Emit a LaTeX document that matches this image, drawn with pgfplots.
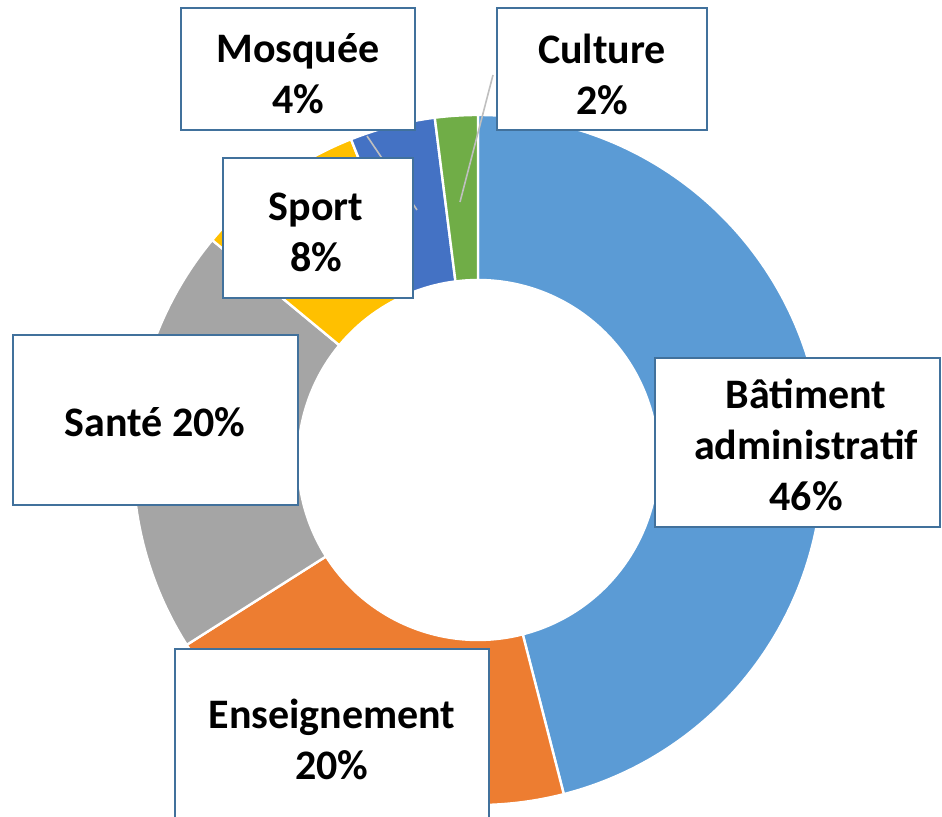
\documentclass[border=0pt]{standalone}
\usepackage{fontspec}
\setmainfont{Carlito}
\usepackage{pgfplots}
\pgfplotsset{compat=1.18}
\definecolor{cBat}{HTML}{5B9BD5}
\definecolor{cEns}{HTML}{ED7D31}
\definecolor{cSan}{HTML}{A5A5A5}
\definecolor{cSpo}{HTML}{FFC000}
\definecolor{cMos}{HTML}{4472C4}
\definecolor{cCul}{HTML}{70AD47}
\definecolor{cBox}{HTML}{41719C}
\definecolor{cLead}{HTML}{BFBFBF}
% centre (478,357), outer radius 345, inner radius 180 (axis units; 1 unit = 0.5pt)
\gdef\cumang{90}
\newcommand\slice[2]{%
  \pgfmathsetmacro\sa{\cumang}%
  \pgfmathsetmacro\sb{\cumang-3.6*#2}%
  \pgfmathsetmacro\xo{478+345*cos(\sa)}%
  \pgfmathsetmacro\yo{357+345*sin(\sa)}%
  \pgfmathsetmacro\xi{478+180*cos(\sb)}%
  \pgfmathsetmacro\yi{357+180*sin(\sb)}%
  \edef\tmp{\noexpand\filldraw[fill=#1,draw=white,line width=1.2pt] (axis cs:\xo,\yo) arc[start angle=\sa,end angle=\sb,radius=172.5pt] -- (axis cs:\xi,\yi) arc[start angle=\sb,end angle=\sa,radius=90pt] -- cycle;}%
  \tmp
  \xdef\cumang{\sb}}
\newcommand\lbl[3]{%
  \draw[cBox,line width=1.1pt,fill=white] (axis cs:#1) rectangle (axis cs:#2);}
\begin{document}
\begin{tikzpicture}
\begin{axis}[x=0.5pt,y=0.5pt,xmin=0,xmax=942,ymin=0,ymax=817,hide axis,clip=true]
\addplot[draw=none] coordinates {(0,0) (942,817)};
% slices: values in percent, clockwise from the top
\slice{cBat}{46}
\slice{cEns}{20}
\slice{cSan}{20}
\slice{cSpo}{8}
\slice{cMos}{4}
\slice{cCul}{2}
% leader lines
\draw[cLead,line width=0.8pt] (axis cs:367,681) -- (axis cs:417,607);
\draw[cLead,line width=0.8pt] (axis cs:493,742) -- (axis cs:460,615);
% label boxes
\draw[cBox,line width=1.1pt,fill=white] (axis cs:181,687) rectangle (axis cs:415,809);
\draw[cBox,line width=1.1pt,fill=white] (axis cs:497,687) rectangle (axis cs:707,809);
\draw[cBox,line width=1.1pt,fill=white] (axis cs:223,519) rectangle (axis cs:413,659);
\draw[cBox,line width=1.1pt,fill=white] (axis cs:13,312) rectangle (axis cs:298,482);
\draw[cBox,line width=1.1pt,fill=white] (axis cs:655,290) rectangle (axis cs:940,459);
\draw[cBox,line width=1.1pt,fill=white] (axis cs:175,-10) rectangle (axis cs:489,168);
\begin{scope}[every node/.style={align=center,font=\fontsize{21}{25.5}\selectfont\bfseries,inner sep=0pt}]
\node at (axis cs:298,743) {Mosquée\\4\%};
\node at (axis cs:602,743) {Culture\\2\%};
\node at (axis cs:316,585) {Sport\\8\%};
\node at (axis cs:155,395) {Santé 20\%};
\node at (axis cs:806,372) {Bâtiment\\administratif\\46\%};
\node at (axis cs:332,78) {Enseignement\\20\%};
\end{scope}
\coordinate (BL) at (axis cs:0,0);
\coordinate (TR) at (axis cs:942,817);
\end{axis}
\pgfresetboundingbox
\path (BL) rectangle (TR);
\end{tikzpicture}
\end{document}
